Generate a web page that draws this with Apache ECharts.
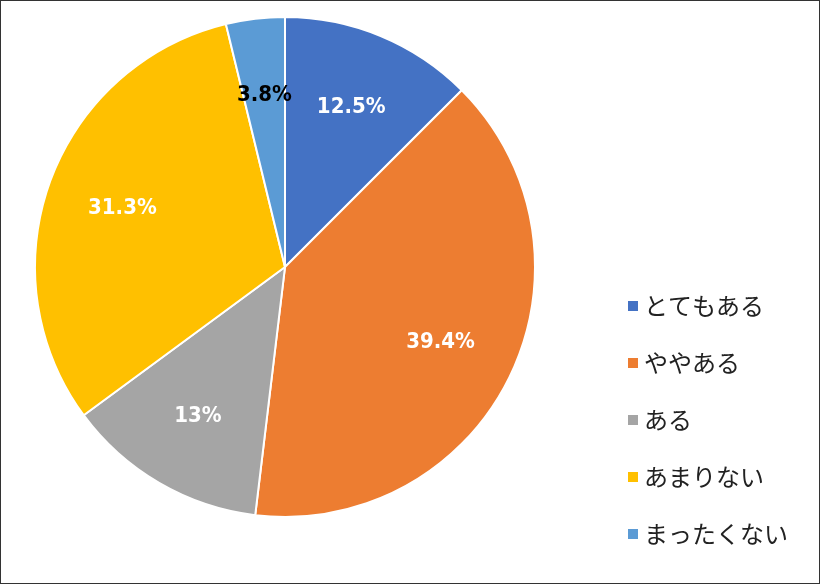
<!DOCTYPE html>
<html><head><meta charset="utf-8">
<script src="https://cdn.jsdelivr.net/npm/echarts@6/dist/echarts.min.js"></script>
<style>html,body{margin:0;padding:0;background:#fff}#c{width:818px;height:582px;border:1px solid #333}</style>
</head><body><div id="c"></div>
<script>
const categories = ['とてもある','ややある','ある','あまりない','まったくない'];
const values = [12.5, 39.4, 13, 31.3, 3.8];
const colors = ['#4472C4','#ED7D31','#A5A5A5','#FFC000','#5B9BD5'];
const labelColors = ['#fff','#fff','#fff','#fff','#000'];
const chart = echarts.init(document.getElementById('c'));
const lbl = {position:'inside',fontSize:22,fontWeight:'bold',fontFamily:'Liberation Sans Narrow, DejaVu Sans Condensed, sans-serif',formatter:p=>p.value+'%'};
chart.setOption({
  animation:false,
  legend:{data:categories,orient:'vertical',left:620,top:288,itemGap:33,itemWidth:12,itemHeight:12,icon:'rect',
    textStyle:{fontSize:24,color:'#222',fontFamily:'Noto Sans CJK JP'}},
  series:[{type:'pie',center:[284,266],radius:250,startAngle:90,clockwise:true,
    itemStyle:{borderColor:'#fff',borderWidth:2},
    label:{show:false},labelLine:{show:false},
    data:categories.map((n,i)=>({name:n,value:values[i],itemStyle:{color:colors[i]}}))
  },{type:'pie',center:[284,266],radius:[90,250],startAngle:90,clockwise:true,silent:true,
    itemStyle:{color:'rgba(0,0,0,0)'},label:lbl,labelLine:{show:false},
    data:categories.map((n,i)=>({name:n,value:values[i],label:{color:labelColors[i]}}))
  }]
});
</script></body></html>
